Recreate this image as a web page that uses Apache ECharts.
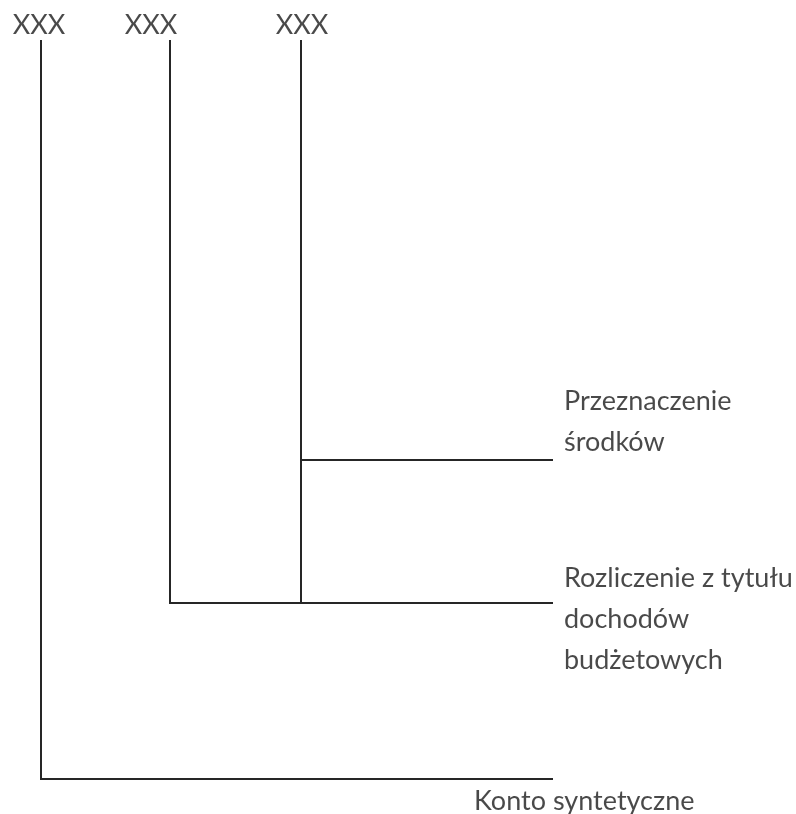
<!DOCTYPE html>
<html>
<head>
<meta charset="utf-8">
<script src="https://cdn.jsdelivr.net/npm/echarts@6/dist/echarts.min.js"></script>
<style>
html,body{margin:0;padding:0;background:#fff;}
#chart{width:796px;height:814px;}
</style>
</head>
<body>
<div id="chart"></div>
<script>
// Diagram structure (in diagram units on hidden value axes)
const stemX = [41, 170, 301];
const stemTop = 41;
const stemBottom = [779, 603, 603];
const branchY = [779, 603, 460];
const branchEndX = 552;

const codeLabels = ['XXX', 'XXX', 'XXX'];
const codeLabelX = [39, 151, 302];
const codeLabelY = 25;

const descriptions = [
  ['Konto syntetyczne'],
  ['Rozliczenie z tytułu', 'dochodów', 'budżetowych'],
  ['Przeznaczenie', 'środków']
];
const descX = [474, 564, 564];
const descFirstY = [801, 578, 401];
const lineGap = 41;

const FONT = 'Lato';
const TEXT_COLOR = '#1c1c1c';
const chart = echarts.init(document.getElementById('chart'), null, {renderer: 'canvas'});

const paths = [];
for (let i = 0; i < stemX.length; i++) {
  paths.push({coords: [[stemX[i], stemTop], [stemX[i], stemBottom[i]]]});
  paths.push({coords: [[stemX[i], branchY[i]], [branchEndX, branchY[i]]]});
}

const codeData = codeLabels.map((t, i) => ({value: [codeLabelX[i], codeLabelY], name: t}));
const descData = [];
descriptions.forEach((lines, i) => {
  lines.forEach((t, j) => descData.push({value: [descX[i], descFirstY[i] + j * lineGap], name: t}));
});

chart.setOption({
  animation: false,
  backgroundColor: '#ffffff',
  grid: {left: 0, right: 0, top: 0, bottom: 0},
  xAxis: {type: 'value', min: 0, max: 796, show: false},
  yAxis: {type: 'value', min: 0, max: 814, inverse: true, show: false},
  series: [
    {
      type: 'lines',
      coordinateSystem: 'cartesian2d',
      polyline: true,
      lineStyle: {color: '#262626', width: 2, opacity: 1, cap: 'square'},
      data: paths
    },
    {
      type: 'scatter',
      symbolSize: 0,
      data: codeData,
      label: {
        show: true, position: 'inside', formatter: p => p.name,
        color: TEXT_COLOR, fontFamily: FONT, fontSize: 27, align: 'center', verticalAlign: 'middle'
      }
    },
    {
      type: 'scatter',
      symbolSize: 0,
      data: descData,
      label: {
        show: true, position: 'inside', formatter: p => p.name,
        color: TEXT_COLOR, fontFamily: FONT, fontSize: 27, align: 'left', verticalAlign: 'middle'
      }
    }
  ]
});
</script>
</body>
</html>
